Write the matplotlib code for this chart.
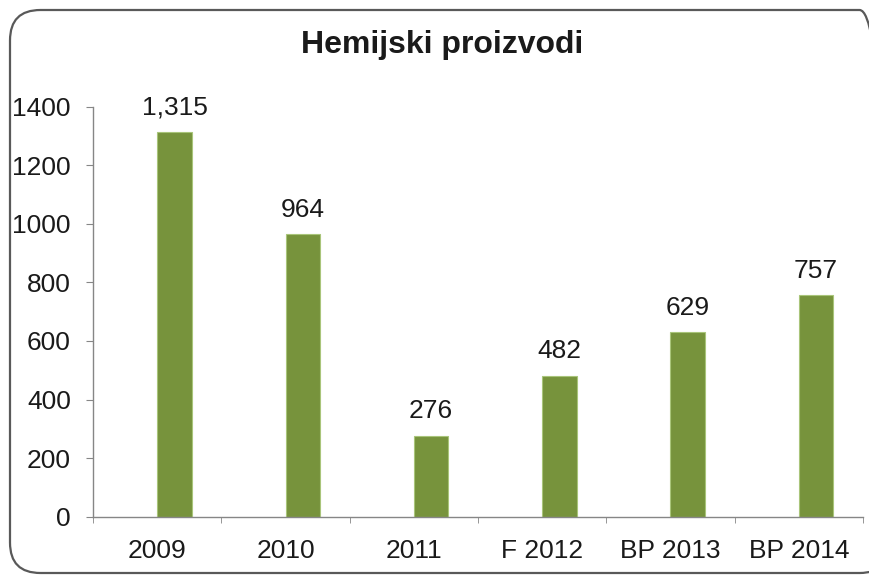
import matplotlib.pyplot as plt
import numpy as np
from matplotlib.patches import FancyBboxPatch

categories = ["2009", "2010", "2011", "F 2012", "BP 2013", "BP 2014"]
values = [1315, 964, 276, 482, 629, 757]
yticks = [0, 200, 400, 600, 800, 1000, 1200, 1400]

plt.rcParams['font.family'] = ['Liberation Sans', 'DejaVu Sans']
txt = '#1a1a1a'

fig = plt.figure(figsize=(8.69, 5.76), dpi=100)

# rounded outer frame (right edge runs past the image)
frame = FancyBboxPatch((10 / 869, 3 / 576), 870 / 869, 563 / 576,
                       boxstyle="round,pad=0,rounding_size=0.035",
                       transform=fig.transFigure, fc='none', ec='#595959',
                       lw=1.6, zorder=5, mutation_aspect=869 / 576)
frame.set_width(880 / 869)
fig.patches.append(frame)

ax = fig.add_axes([93 / 869, 1 - 516.7 / 576, (863 - 93) / 869, (516.7 - 106.7) / 576])
ax.patch.set_alpha(0)

x = np.arange(len(categories))
bars = ax.bar(x, values, width=0.27, align='edge', color='#77933C',
              edgecolor='#A9C57A', linewidth=0.8)
ax.bar_label(bars, labels=['{:,}'.format(v) for v in values], padding=9,
             fontsize=19, color=txt)

ax.set_xlim(-0.5, len(categories) - 0.5)
ax.set_ylim(0, 1400)
ax.set_yticks(yticks)
ax.set_xticks(x)
ax.set_xticklabels(categories)
ax.set_xticks(np.arange(len(categories) + 1) - 0.5, minor=True)

ax.tick_params(axis='y', labelsize=19, colors='#868686', labelcolor=txt, length=5, pad=11)
ax.tick_params(axis='x', which='major', labelsize=19, labelcolor=txt, length=0, pad=16)
ax.tick_params(axis='x', which='minor', length=4.5, color='#868686')

for s in ['top', 'right']:
    ax.spines[s].set_visible(False)
for s in ['left', 'bottom']:
    ax.spines[s].set_color('#868686')
    ax.spines[s].set_linewidth(1.0)

fig.text(442 / 869, 1 - 45 / 576, "Hemijski proizvodi", ha='center', va='center',
         fontsize=23, fontweight='bold', color=txt)

fig.savefig('out.png', dpi=100)
